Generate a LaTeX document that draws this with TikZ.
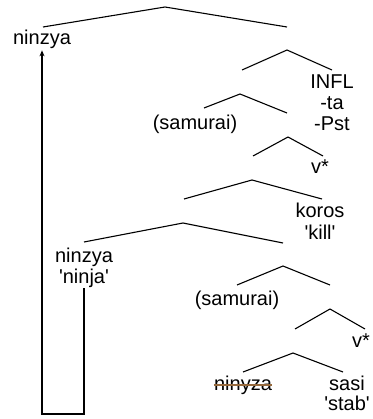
\documentclass[tikz,border=0pt]{standalone}
\usepackage{fontspec}
\setmainfont{Liberation Sans}
\usetikzlibrary{arrows.meta}

\definecolor{strikebrown}{RGB}{150,105,60}
\newcommand{\sq}{\textquotesingle}

\tikzset{
	lbl/.style={anchor=base,inner sep=1pt,font=\fontsize{20}{21}\selectfont},
	branch/.style={line width=1.1pt},
	move/.style={line width=1.1pt,-{Stealth[length=6pt,width=5pt]}},
	strike/.style={line width=1.1pt,strikebrown,shorten <=1pt,shorten >=1pt}
}

\begin{document}
\begin{tikzpicture}[x=1pt,y=-1pt]
		\useasboundingbox (0,0) rectangle (372,419);
		
		% branches: name/apex/left end/right end
		\foreach \n/\ax/\ay/\lx/\ly/\rx/\ry in {
			tp/165/7/43/27/287/27,
			tbar/287/50/242/70/332/70,
			vpa/240/94/204/108/287/113,
			vbara/288/137/253/156/323/156,
			vpb/252/180/184/199/322/199,
			vpc/183/223/84/242/283/243,
			vpd/283/266/237/285/330/285,
			vbarb/330/309/295/329/365/329,
			vpe/293/353/243/372/343/372}
		{
			\coordinate (\n) at (\ax,\ay);
			\draw[branch] (\lx,\ly) -- (\n) -- (\rx,\ry);
		}
		
		% words
		\node[lbl] (top) at (42,45) {ninzya};
		\node[lbl] (infl) at (332,89) {INFL};
		\node[lbl] (ta) at (332,110) {-ta};
		\node[lbl] (pst) at (332,131) {-Pst};
		\node[lbl] (sama) at (195,130) {(samurai)};
		\node[lbl] (va) at (320,174) {v*};
		\node[lbl] (koros) at (320,218) {koros};
		\node[lbl] (kill) at (320,239) {\sq kill\sq};
		\node[lbl] (nz) at (84,262) {ninzya};
		\node[lbl] (nj) at (84,283) {\sq ninja\sq};
		\node[lbl] (samb) at (237,305) {(samurai)};
		\node[lbl] (vb) at (361,347) {v*};
		\node[lbl] (ny) at (243,390) {ninyza};
		\node[lbl] (sasi) at (347,390) {sasi};
		\node[lbl] (stab) at (347,410) {\sq stab\sq};
		
		% deleted copy
		\draw[strike] ([yshift=5pt]ny.base west) -- ([yshift=5pt]ny.base east);
		
		% movement
		\coordinate (trc) at (84,414);
		\draw[move] (nj.south) -- (nj.south |- trc) -| (top.south);
	\end{tikzpicture}
\end{document}
